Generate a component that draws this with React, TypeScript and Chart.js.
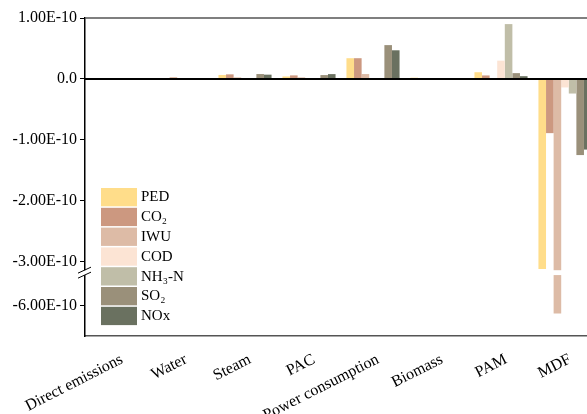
import React, { useEffect, useRef } from 'react';
import { Chart, registerables } from 'chart.js';

Chart.register(...registerables);

const categories = ['Direct emissions', 'Water', 'Steam', 'PAC', 'Power consumption', 'Biomass', 'PAM', 'MDF'];
const seriesNames = ['PED', 'CO₂', 'IWU', 'COD', 'NH₃-N', 'SO₂', 'NOx'];

const PED = [0, 0, 6.5e-12, 4.0e-12, 3.4e-11, 2.0e-12, 1.1e-11, -3.12e-10];
const CO2 = [0, 0, 7.5e-12, 5.8e-12, 3.4e-11, 0, 5.7e-12, -8.9e-11];
const IWU = [0, 3.0e-12, 2.5e-12, 2.5e-12, 8.0e-12, 0, 0, -6.13e-10];
const COD = [0, 0, 0, 0, 0, 0, 3.0e-11, -1.4e-11];
const NH3N = [0, 0, 0, 0, 0, 0, 9.0e-11, -2.4e-11];
const SO2 = [0, 0, 8.0e-12, 6.3e-12, 5.55e-11, 0, 9.5e-12, -1.25e-10];
const NOx = [0, 0, 7.0e-12, 7.9e-12, 4.7e-11, 0, 4.5e-12, -1.16e-10];

const seriesColors = ['#FFDD8A', '#CC9880', '#DDBBA6', '#FCE4D4', '#C0BEA8', '#9A907A', '#6A7160'];

const yTickValues = [1e-10, 0, -1e-10, -2e-10, -3e-10, -6e-10];
const yTickLabels = ['1.00E-10', '0.0', '-1.00E-10', '-2.00E-10', '-3.00E-10', '-6.00E-10'];

// broken axis definition (in units of 1e-10)
const UNIT = 1e-10;
const AXIS_MAX = 1.0;
const AXIS_MIN = -6.5;
const BREAK_UPPER_END = -3.14;
const BREAK_LOWER_START = -5.5;
const BREAK_GAP = 0.08;

const toDisplay = (v: number) => {
  const d = v / UNIT;
  if (d >= BREAK_UPPER_END) return d;
  if (d <= BREAK_LOWER_START) return d - BREAK_LOWER_START + BREAK_UPPER_END - BREAK_GAP;
  return BREAK_UPPER_END;
};

const FONT = 'Liberation Serif';

export default function App() {
  const ref = useRef<HTMLCanvasElement | null>(null);

  useEffect(() => {
    if (!ref.current) return;
    const allSeries = [PED, CO2, IWU, COD, NH3N, SO2, NOx];

    const decorPlugin = {
      id: 'decor',
      afterDatasetsDraw(chart: any) {
        const { ctx, chartArea } = chart;
        const y = chart.scales.y;
        ctx.save();
        // break band
        const yb1 = y.getPixelForValue(BREAK_UPPER_END);
        const yb2 = y.getPixelForValue(BREAK_UPPER_END - BREAK_GAP);
        ctx.fillStyle = '#ffffff';
        ctx.fillRect(chartArea.left - 2, yb1, chartArea.right - chartArea.left + 4, yb2 - yb1);
        // break slashes
        const yc = (yb1 + yb2) / 2;
        ctx.strokeStyle = '#000';
        ctx.lineWidth = 1;
        for (const off of [-2.5, 2.5]) {
          ctx.beginPath();
          ctx.moveTo(chartArea.left - 7, yc + off + 3);
          ctx.lineTo(chartArea.left + 6, yc + off - 3);
          ctx.stroke();
        }
        // zero line
        const y0 = y.getPixelForValue(0);
        ctx.strokeStyle = '#000';
        ctx.lineWidth = 2;
        ctx.beginPath();
        ctx.moveTo(chartArea.left, y0);
        ctx.lineTo(chartArea.right, y0);
        ctx.stroke();
        // top border
        ctx.strokeStyle = '#555';
        ctx.lineWidth = 1.5;
        ctx.beginPath();
        ctx.moveTo(chartArea.left, chartArea.top);
        ctx.lineTo(chartArea.right, chartArea.top);
        ctx.stroke();
        // legend
        const bx = chartArea.left + 16;
        let by = chartArea.top + 170;
        ctx.font = `15px "${FONT}"`;
        ctx.textBaseline = 'middle';
        ctx.textAlign = 'left';
        chart.data.datasets.forEach((ds: any) => {
          ctx.fillStyle = ds.backgroundColor;
          ctx.fillRect(bx, by, 36, 18.3);
          ctx.fillStyle = '#000';
          ctx.fillText(ds.label, bx + 40, by + 9.5);
          by += 19.8;
        });
        ctx.restore();
      },
    };

    const chart = new Chart(ref.current, {
      type: 'bar',
      data: {
        labels: categories,
        datasets: allSeries.map((s, i) => ({
          label: seriesNames[i],
          data: s.map(toDisplay),
          backgroundColor: seriesColors[i],
          borderWidth: 0,
          barPercentage: 1.0,
          categoryPercentage: 0.83,
        })),
      },
      options: {
        responsive: false,
        animation: false,
        layout: { padding: { top: 18, right: 0, left: 0, bottom: 0 } },
        plugins: {
          legend: { display: false },
          tooltip: { enabled: false },
        },
        scales: {
          x: {
            grid: { display: false },
            border: { display: true, color: '#555', width: 1.5 },
            ticks: {
              maxRotation: 27,
              minRotation: 27,
              autoSkip: false,
              padding: 6,
              labelOffset: 5,
              color: '#000',
              font: { family: FONT, size: 16 },
            },
            afterFit(scale: any) {
              scale.height = 78;
              scale.paddingLeft = 0;
              scale.paddingRight = 0;
            },
          },
          y: {
            min: toDisplay(AXIS_MIN * UNIT),
            max: AXIS_MAX,
            grid: { drawOnChartArea: false, drawTicks: true, tickLength: 5, color: '#000' },
            border: { display: true, color: '#000', width: 1.5 },
            afterBuildTicks(scale: any) {
              scale.ticks = yTickValues.map((v) => ({ value: toDisplay(v) }));
            },
            ticks: {
              autoSkip: false,
              padding: 3,
              color: '#000',
              font: { family: FONT, size: 16 },
              callback: (_v: any, idx: number) => yTickLabels[idx],
            },
            afterFit(scale: any) {
              scale.width = 85;
              scale.paddingTop = 0;
              scale.paddingBottom = 0;
            },
          },
        },
      },
      plugins: [decorPlugin],
    });
    return () => chart.destroy();
  }, []);

  return (
    <div style={{ position: 'fixed', left: 0, top: 0, width: 587, height: 414, overflow: 'hidden', background: '#fff' }}>
      <canvas ref={ref} width={597} height={414} style={{ display: 'block' }} />
    </div>
  );
}
